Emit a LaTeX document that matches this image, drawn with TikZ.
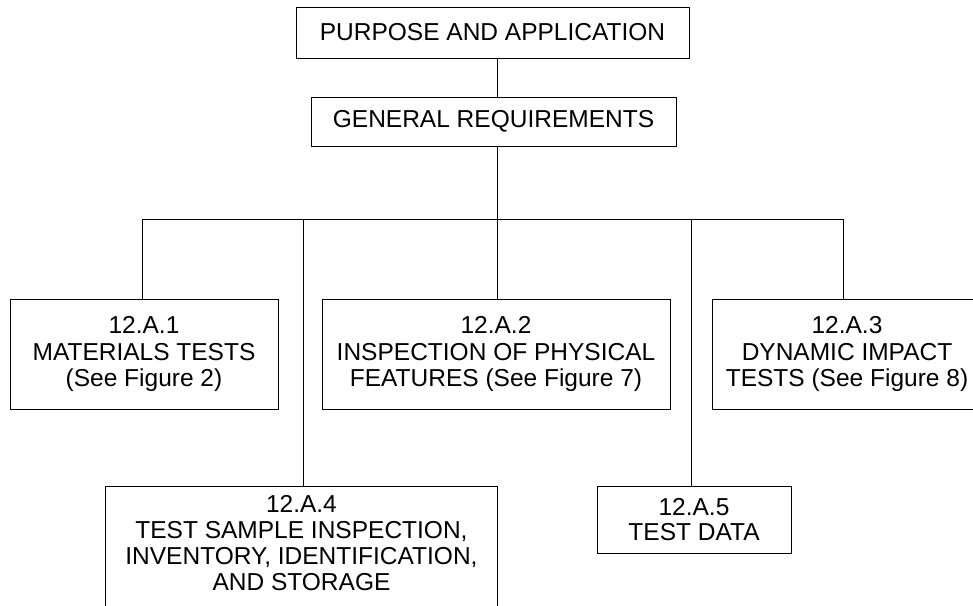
\documentclass[tikz,border=0pt]{standalone}
\usepackage{fontspec}
\setmainfont{Liberation Sans}
\begin{document}
\begin{tikzpicture}[x=1pt,y=-1pt,
  box/.style={draw, line width=0.9pt, inner sep=0pt, align=center, font=\fontsize{24.5}{26.3}\selectfont},
  link/.style={line width=0.9pt}]
\useasboundingbox (0,0) rectangle (973,605);
\clip (0,0) rectangle (973,605);
\node[box, minimum width=393, minimum height=51] (top) at (492.5,32.5) {PURPOSE AND APPLICATION};
\node[box, minimum width=365, minimum height=49] (gr) at (493.5,121.5) {GENERAL REQUIREMENTS};
\node[box, minimum width=268, minimum height=110] (b1) at (144,354) {12.A.1\\MATERIALS TESTS\\(See Figure 2)};
\node[box, minimum width=348, minimum height=110] (b2) at (496,354) {12.A.2\\INSPECTION OF PHYSICAL\\FEATURES (See Figure 7)};
\node[box, minimum width=270, minimum height=110] (b3) at (847,354) {12.A.3\\DYNAMIC IMPACT\\TESTS (See Figure 8)};
\node[draw, line width=0.9pt, inner sep=0pt, anchor=north west] (b4) at (105,486)
  {\parbox[b][140pt][t]{392pt}{\vspace*{8.5pt}\centering\fontsize{24.5}{26.3}\selectfont
   12.A.4\\TEST SAMPLE INSPECTION,\\INVENTORY, IDENTIFICATION,\\AND STORAGE}};
\node[box, minimum width=194, minimum height=67, font=\fontsize{24.5}{24.5}\selectfont] (b5) at (694,519.5) {12.A.5\\TEST DATA};
\coordinate (sp) at (497,219);
\coordinate (d1) at (142,219);
\coordinate (d4) at (303,219);
\coordinate (d5) at (691,219);
\coordinate (d3) at (843,219);
\draw[link] (top.south -| sp) -- (gr.north -| sp);
\draw[link] (gr.south -| sp) -- (sp);
\draw[link] (d1) -- (d3);
\draw[link] (d1) -- (d1 |- b1.north);
\draw[link] (sp) -- (sp |- b2.north);
\draw[link] (d3) -- (d3 |- b3.north);
\draw[link] (d4) -- (d4 |- b4.north);
\draw[link] (d5) -- (d5 |- b5.north);
\end{tikzpicture}
\end{document}
